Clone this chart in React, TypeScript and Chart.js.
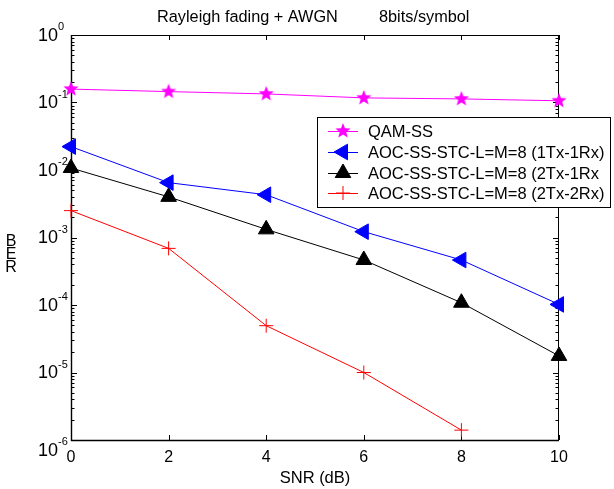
import React, { useEffect, useRef } from 'react';
import { Chart, registerables } from 'chart.js';
import { drawPoint } from 'chart.js/helpers';

Chart.register(...registerables);

const snr = [0, 2, 4, 6, 8, 10];
const qamSS = [0.158, 0.145, 0.134, 0.117, 0.113, 0.106];
const aoc1Tx1Rx = [0.0222, 0.0065, 0.0043, 0.00122, 0.000464, 0.000102];
const aoc2Tx1Rx = [0.0107, 0.004, 0.00132, 0.000464, 0.000108, 0.0000176];
const aoc2Tx2Rx = [0.0025, 0.00069, 0.0000494, 0.00001, 0.0000014];
const xTicks = [0, 2, 4, 6, 8, 10];
const yTickExps = [0, -1, -2, -3, -4, -5, -6];
const seriesLabels = [
  'QAM-SS',
  'AOC-SS-STC-L=M=8 (1Tx-1Rx)',
  'AOC-SS-STC-L=M=8 (2Tx-1Rx',
  'AOC-SS-STC-L=M=8 (2Tx-2Rx)',
];
const titleLeft = 'Rayleigh fading + AWGN';
const titleRight = '8bits/symbol';
const xTitle = 'SNR (dB)';
const yTitle = 'BER';

const FONT = '"Liberation Sans", Arial, Helvetica, sans-serif';

function makeStar(color: string, outer: number, inner: number) {
  const size = Math.ceil(outer * 2 + 2);
  const c = document.createElement('canvas');
  c.width = size;
  c.height = size;
  const ctx = c.getContext('2d')!;
  ctx.beginPath();
  for (let i = 0; i < 10; i++) {
    const r = i % 2 === 0 ? outer : inner;
    const a = -Math.PI / 2 + (i * Math.PI) / 5;
    ctx.lineTo(size / 2 + r * Math.cos(a), size / 2 + r * Math.sin(a));
  }
  ctx.closePath();
  ctx.fillStyle = color;
  ctx.fill();
  return c;
}

export default function App() {
  const ref = useRef<HTMLCanvasElement | null>(null);

  useEffect(() => {
    document.body.style.margin = '0';
    const star = makeStar('#ff00ff', 8, 3.4);
    const pts = (ys: number[]) => ys.map((y, i) => ({ x: snr[i], y }));

    const styles = [
      { color: '#ff00ff', pointStyle: star as any, radius: 8, rotation: 0 },
      { color: '#0000ff', pointStyle: 'triangle', radius: 9, rotation: 270 },
      { color: '#000000', pointStyle: 'triangle', radius: 9, rotation: 0 },
      { color: '#ff0000', pointStyle: 'cross', radius: 7, rotation: 0 },
    ];
    const allData = [qamSS, aoc1Tx1Rx, aoc2Tx1Rx, aoc2Tx2Rx];

    const decorBack = {
      id: 'decorBack',
      beforeDatasetsDraw(chart: any) {
        const { ctx, chartArea: a, scales } = chart;
        const xs = scales.x, ys = scales.y;
        ctx.save();
        ctx.strokeStyle = '#000';
        ctx.lineWidth = 1;
        ctx.strokeRect(a.left + 0.5, a.top + 0.5, a.right - a.left - 1, a.bottom - a.top);
        ctx.lineWidth = 1.4;
        ctx.beginPath();
        ctx.moveTo(a.left + 0.5, a.top);
        ctx.lineTo(a.left + 0.5, a.bottom + 0.5);
        ctx.lineTo(a.right, a.bottom + 0.5);
        ctx.stroke();
        ctx.lineWidth = 1;
        ctx.beginPath();
        for (const t of xTicks) {
          const px = Math.round(xs.getPixelForValue(t)) + 0.5;
          ctx.moveTo(px, a.bottom);
          ctx.lineTo(px, a.bottom - 5);
          ctx.moveTo(px, a.top);
          ctx.lineTo(px, a.top + 5);
        }
        for (const e of yTickExps) {
          for (let m = 1; m <= 9; m++) {
            const v = m * Math.pow(10, e);
            if (v > 1.0000001) continue;
            const py = Math.round(ys.getPixelForValue(v)) + 0.5;
            const len = m === 1 ? 6 : 3.5;
            ctx.moveTo(a.left, py);
            ctx.lineTo(a.left + len, py);
            ctx.moveTo(a.right, py);
            ctx.lineTo(a.right - len, py);
          }
        }
        ctx.stroke();

        ctx.fillStyle = '#000';
        ctx.font = `16px ${FONT}`;
        ctx.textAlign = 'center';
        ctx.textBaseline = 'middle';
        for (const t of xTicks) {
          ctx.fillText(String(t), xs.getPixelForValue(t), a.bottom + 18);
        }
        const minExp = Math.min(...yTickExps);
        for (const e of yTickExps) {
          let py = ys.getPixelForValue(Math.pow(10, e));
          if (e === minExp) py += 10;
          ctx.font = `18px ${FONT}`;
          ctx.textAlign = 'right';
          ctx.textBaseline = 'middle';
          ctx.fillText('10', a.left - 13, py + 1);
          ctx.font = `11px ${FONT}`;
          ctx.textAlign = 'left';
          ctx.fillText(String(e), a.left - 13, py - 8);
        }
        ctx.font = `16.5px ${FONT}`;
        ctx.textAlign = 'center';
        ctx.textBaseline = 'middle';
        ctx.fillText(xTitle, (a.left + a.right) / 2, a.bottom + 38);
        // title in two parts
        ctx.font = `16.3px ${FONT}`;
        ctx.textAlign = 'left';
        ctx.fillText(titleLeft, 157, 18);
        ctx.fillText(titleRight, 379, 18);
        // y title (stacked letters)
        ctx.font = `16px ${FONT}`;
        ctx.textAlign = 'center';
        yTitle.split('').forEach((ch, i) => {
          ctx.fillText(ch, 11, 242 + i * 13);
        });
        ctx.restore();
      },
    };

    const legendPlugin = {
      id: 'legendBox',
      afterDraw(chart: any) {
        const { ctx } = chart;
        ctx.save();
        const bx = 317, by = 117, bw = 293, bh = 90;
        ctx.fillStyle = '#fff';
        ctx.fillRect(bx, by, bw, bh);
        ctx.strokeStyle = '#000';
        ctx.lineWidth = 1;
        ctx.strokeRect(bx + 0.5, by + 0.5, bw, bh);
        const rows = [131, 152, 173, 193];
        seriesLabels.forEach((lab, i) => {
          const s = styles[i];
          const y = rows[i];
          ctx.strokeStyle = s.color;
          ctx.lineWidth = 1;
          ctx.beginPath();
          ctx.moveTo(328, y + 0.5);
          ctx.lineTo(358, y + 0.5);
          ctx.stroke();
          ctx.fillStyle = s.color;
          drawPoint(ctx, {
            pointStyle: s.pointStyle,
            radius: s.radius,
            rotation: s.rotation,
            borderWidth: 1,
          } as any, 343, y);
          ctx.fillStyle = '#000';
          ctx.font = `16.5px ${FONT}`;
          ctx.textAlign = 'left';
          ctx.textBaseline = 'middle';
          ctx.fillText(lab, 368, y + 1);
        });
        ctx.restore();
      },
    };

    const chart = new Chart(ref.current!, {
      type: 'line',
      data: {
        datasets: allData.map((d, i) => ({
          label: seriesLabels[i],
          data: pts(d),
          borderColor: styles[i].color,
          backgroundColor: styles[i].color,
          borderWidth: 1,
          pointStyle: styles[i].pointStyle,
          pointRadius: styles[i].radius,
          pointRotation: styles[i].rotation,
          pointBorderWidth: 1,
          pointBorderColor: styles[i].color,
          pointBackgroundColor: styles[i].color,
          tension: 0,
          clip: false as any,
        })),
      },
      options: {
        animation: false,
        responsive: false,
        layout: { padding: { left: 0, right: 55, top: 35, bottom: 0 } },
        plugins: {
          legend: { display: false },
          title: { display: false },
          tooltip: { enabled: false },
        },
        scales: {
          x: {
            type: 'linear',
            min: 0,
            max: 10,
            grid: { display: false },
            border: { display: false },
            ticks: { display: false },
            afterFit: (s: any) => { s.height = 49; },
          },
          y: {
            type: 'logarithmic',
            min: 1e-6,
            max: 1,
            grid: { display: false },
            border: { display: false },
            ticks: { display: false },
            afterFit: (s: any) => { s.width = 71; },
          },
        },
      },
      plugins: [decorBack, legendPlugin],
    });
    return () => chart.destroy();
  }, []);

  return (
    <div style={{ position: 'fixed', left: 0, top: 0, width: 614, height: 489, background: '#fff' }}>
      <canvas ref={ref} width={614} height={489} style={{ width: 614, height: 489, display: 'block' }} />
    </div>
  );
}
